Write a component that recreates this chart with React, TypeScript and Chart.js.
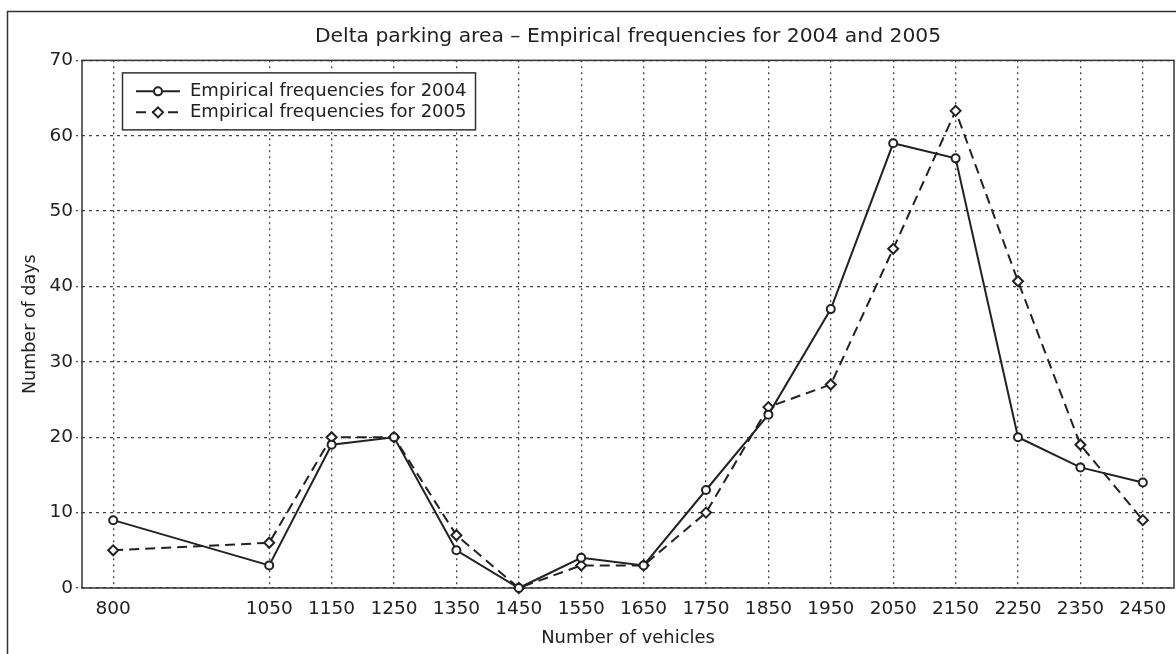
import { useEffect, useRef } from "react";
import { Chart, registerables } from "chart.js";

Chart.register(...registerables);

const vehicles = [800, 1050, 1150, 1250, 1350, 1450, 1550, 1650, 1750, 1850, 1950, 2050, 2150, 2250, 2350, 2450];
const freq2004 = [9, 3, 19, 20, 5, 0, 4, 3, 13, 23, 37, 59, 57, 20, 16, 14];
const freq2005 = [5, 6, 20, 20, 7, 0, 3, 3, 10, 24, 27, 45, 63.3, 40.7, 19, 9];
const yTickValues = [0, 10, 20, 30, 40, 50, 60, 70];
const seriesLabels = ["Empirical frequencies for 2004", "Empirical frequencies for 2005"];
const chartTitle = "Delta parking area \u2013 Empirical frequencies for 2004 and 2005";
const xAxisTitle = "Number of vehicles";
const yAxisTitle = "Number of days";

const FONT = "'DejaVu Sans', sans-serif";
const INK = "#222";
const GRID = "#444";

const framePlugin = {
  id: "frame",
  beforeDraw(chart: any) {
    const ctx = chart.ctx;
    ctx.save();
    ctx.fillStyle = "#fff";
    ctx.fillRect(0, 0, chart.width, chart.height);
    ctx.strokeStyle = "#333";
    ctx.lineWidth = 1.5;
    ctx.strokeRect(7.5, 11.5, 3000, 3000);
    ctx.restore();
  },
};

const plotBorderPlugin = {
  id: "plotBorder",
  beforeDatasetsDraw(chart: any) {
    const { ctx, chartArea: a } = chart;
    ctx.save();
    ctx.strokeStyle = "#333";
    ctx.lineWidth = 1.5;
    ctx.setLineDash([]);
    ctx.strokeRect(a.left, a.top, a.right - a.left, a.bottom - a.top);
    ctx.restore();
  },
};

const legendPlugin = {
  id: "customLegend",
  afterDraw(chart: any) {
    const { ctx, chartArea: a } = chart;
    const bx = a.left + 40.5;
    const by = a.top + 12.5;
    const bw = 353;
    const bh = 57;
    ctx.save();
    ctx.fillStyle = "#fff";
    ctx.fillRect(bx, by, bw, bh);
    ctx.strokeStyle = "#333";
    ctx.lineWidth = 1.5;
    ctx.strokeRect(bx, by, bw, bh);
    chart.data.datasets.forEach((ds: any, i: number) => {
      const y = by + 18.5 + i * 21;
      const x0 = bx + 13.5;
      const x1 = bx + 57.5;
      const mx = (x0 + x1) / 2;
      ctx.strokeStyle = INK;
      ctx.lineWidth = 2;
      ctx.setLineDash(ds.borderDash || []);
      ctx.beginPath();
      ctx.moveTo(x0, y);
      ctx.lineTo(x1, y);
      ctx.stroke();
      ctx.setLineDash([]);
      ctx.fillStyle = "#fff";
      ctx.beginPath();
      if (ds.pointStyle === "rectRot") {
        const r = 5;
        ctx.moveTo(mx, y - r);
        ctx.lineTo(mx + r, y);
        ctx.lineTo(mx, y + r);
        ctx.lineTo(mx - r, y);
        ctx.closePath();
      } else {
        ctx.arc(mx, y, 4, 0, Math.PI * 2);
      }
      ctx.fill();
      ctx.stroke();
      ctx.fillStyle = INK;
      ctx.font = `18px ${FONT}`;
      ctx.textAlign = "left";
      ctx.textBaseline = "middle";
      ctx.fillText(ds.label, bx + 67.5, y);
    });
    ctx.restore();
  },
};

export default function App() {
  const ref = useRef<HTMLCanvasElement | null>(null);
  useEffect(() => {
    if (!ref.current) return;
    const chart = new Chart(ref.current, {
      type: "line",
      data: {
        datasets: [
          {
            label: seriesLabels[0],
            data: vehicles.map((v, i) => ({ x: v, y: freq2004[i] })),
            borderColor: INK,
            borderWidth: 2,
            pointStyle: "circle",
            pointRadius: 4,
            pointBorderWidth: 2,
            pointBorderColor: INK,
            pointBackgroundColor: "#fff",
            tension: 0,
            clip: false as any,
          },
          {
            label: seriesLabels[1],
            data: vehicles.map((v, i) => ({ x: v, y: freq2005[i] })),
            borderColor: INK,
            borderWidth: 2,
            borderDash: [10, 6],
            pointStyle: "rectRot",
            pointRadius: 5,
            pointBorderWidth: 2,
            pointBorderColor: INK,
            pointBackgroundColor: "#fff",
            tension: 0,
            clip: false as any,
          },
        ],
      },
      options: {
        animation: false,
        responsive: false,
        devicePixelRatio: 1,
        layout: { autoPadding: false, padding: { left: 0, right: 2, top: 0, bottom: 0 } },
        plugins: {
          legend: { display: false },
          tooltip: { enabled: false },
          title: {
            display: true,
            text: chartTitle,
            color: INK,
            fullSize: false,
            font: { family: FONT, size: 20.3, weight: "normal" },
            padding: { top: 25, bottom: 11 },
          },
        },
        scales: {
          x: {
            type: "linear",
            min: 750,
            max: 2500,
            afterBuildTicks: (s: any) => {
              s.ticks = vehicles.map((v) => ({ value: v }));
            },
            afterFit: (s: any) => {
              s.height = 66;
              s.paddingLeft = 0;
              s.paddingRight = 0;
            },
            grid: {
              color: GRID,
              lineWidth: 1.3,
              drawTicks: false,
            },
            border: { display: false, dash: [2, 4] },
            ticks: {
              color: INK,
              padding: 10,
              autoSkip: false,
              maxRotation: 0,
              font: { family: FONT, size: 18.5 },
              callback: (v: any) => String(v),
            },
            title: {
              display: true,
              text: xAxisTitle,
              color: INK,
              font: { family: FONT, size: 17.9 },
              padding: { top: 0, bottom: 5 },
            },
          },
          y: {
            type: "linear",
            min: 0,
            max: 70,
            afterBuildTicks: (s: any) => {
              s.ticks = yTickValues.map((v) => ({ value: v }));
            },
            afterFit: (s: any) => {
              s.width = 82;
            },
            grid: {
              color: GRID,
              lineWidth: 1.3,
              drawTicks: true,
              tickLength: 6,
              tickBorderDash: [2, 3],
            },
            border: { display: false, dash: [3, 4] },
            ticks: {
              color: INK,
              padding: 3,
              font: { family: FONT, size: 18.5 },
            },
            title: {
              display: true,
              text: yAxisTitle,
              color: INK,
              font: { family: FONT, size: 17.5 },
              padding: { top: 19.5, bottom: 0 },
            },
          },
        },
      },
      plugins: [framePlugin, plotBorderPlugin, legendPlugin],
    } as any);
    return () => chart.destroy();
  }, []);
  return (
    <div style={{ position: "absolute", left: 0, top: 0, width: 1176, height: 654 }}>
      <canvas ref={ref} width={1176} height={654} style={{ display: "block" }} />
    </div>
  );
}
